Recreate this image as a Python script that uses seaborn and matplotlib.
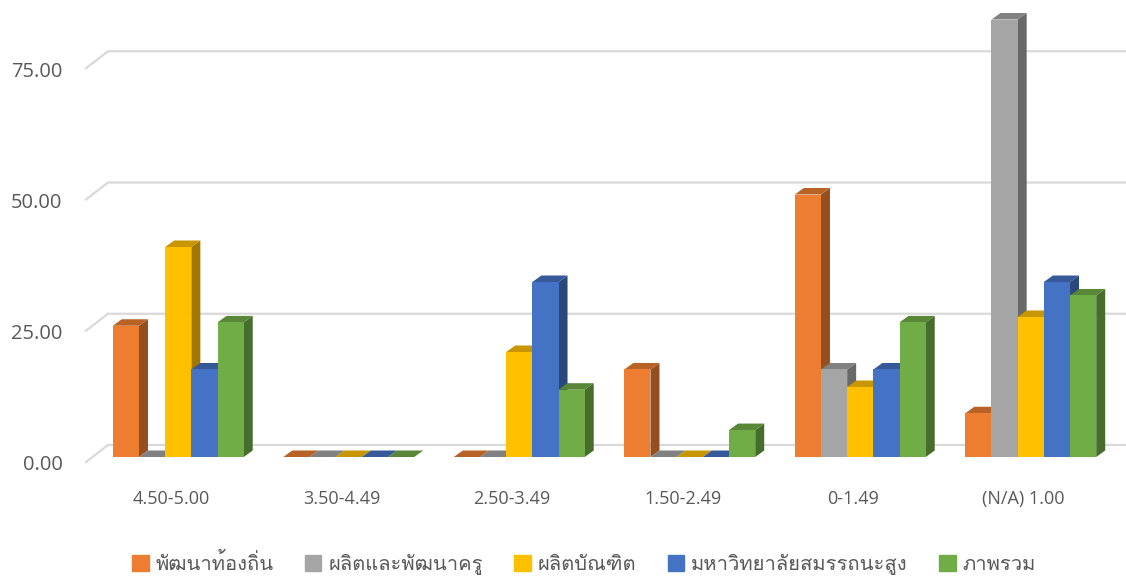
import numpy as np
import pandas as pd
import seaborn as sns
import matplotlib
matplotlib.use('Agg')
import matplotlib.pyplot as plt
from matplotlib import font_manager, ft2font, colors as mcolors
from matplotlib.patches import Polygon
from matplotlib.lines import Line2D
from matplotlib.transforms import ScaledTranslation, IdentityTransform

categories = ['4.50-5.00', '3.50-4.49', '2.50-3.49', '1.50-2.49', '0-1.49', '(N/A) 1.00']
series = ['พัฒนาท้องถิ่น', 'ผลิตและพัฒนาครู', 'ผลิตบัณฑิต', 'มหาวิทยาลัยสมรรถนะสูง', 'ภาพรวม']
local_dev = [25.00, 0.00, 0.00, 16.67, 50.00, 8.33]
teacher_dev = [0.00, 0.00, 0.00, 0.00, 16.67, 83.33]
graduates = [40.00, 0.00, 20.00, 0.00, 13.33, 26.67]
high_perf = [16.67, 0.00, 33.33, 0.00, 16.67, 33.33]
overall = [25.64, 0.00, 12.82, 5.13, 25.64, 30.77]
yticks = [0, 25, 50, 75]
palette = ['#ED7D31', '#A5A5A5', '#FFC000', '#4472C4', '#70AD47']


def find_thai_font():
    for f in font_manager.fontManager.ttflist:
        try:
            cmap = ft2font.FT2Font(f.fname).get_charmap()
        except Exception:
            continue
        if 0x0E1E in cmap and 0x0E31 in cmap:
            return f.name
    return None


thai = find_thai_font()
families = ([thai] if thai else []) + ['DejaVu Sans']
num_font = ['Open Sans', 'DejaVu Sans']

df = pd.DataFrame({
    'cat': categories * 5,
    'series': [s for s in series for _ in categories],
    'value': local_dev + teacher_dev + graduates + high_perf + overall,
})

fig = plt.figure(figsize=(11.26, 5.81), dpi=100)
W, H = 1126, 581
ax = fig.add_axes([93 / W, (H - 457) / H, 1023 / W, 457 / H])
sns.barplot(data=df, x='cat', y='value', hue='series', palette=palette,
            width=0.768, saturation=1, ax=ax, legend=False, linewidth=0)
ax.set_xlim(-0.5, 5.5)
ax.set_ylim(0, 457 / 5.25)
for s in ax.spines.values():
    s.set_visible(False)
ax.set_xlabel('')
ax.set_ylabel('')

# pixel -> data units
px_x = ax.transData.transform((1, 0))[0] - ax.transData.transform((0, 0))[0]
px_y = ax.transData.transform((0, 1))[1] - ax.transData.transform((0, 0))[1]
dx, dy = 9 / px_x, 6.5 / px_y

bars = sorted(ax.patches, key=lambda p: p.get_x())
for i, p in enumerate(bars):
    x0, w, h = p.get_x(), p.get_width(), p.get_height()
    c = np.array(mcolors.to_rgb(p.get_facecolor()))
    z = 3 + i * 0.01
    p.set_zorder(z + 0.005)
    p.set_clip_on(False)
    side = Polygon([(x0 + w, 0), (x0 + w + dx, dy), (x0 + w + dx, h + dy), (x0 + w, h)],
                   closed=True, facecolor=c * 0.63, edgecolor='none', zorder=z, clip_on=False)
    top = Polygon([(x0, h), (x0 + dx, h + dy), (x0 + w + dx, h + dy), (x0 + w, h)],
                  closed=True, facecolor=c * 0.78, edgecolor='none', zorder=z, clip_on=False)
    ax.add_patch(side)
    ax.add_patch(top)

# back wall gridlines with floor diagonals
for v in yticks:
    bx, by = ax.transData.transform((-0.5, v))
    ax.add_line(Line2D([bx - 7, bx + 15, bx + 1033], [by - 5, by + 12, by + 12],
                       transform=IdentityTransform(), color='#D9D9D9', lw=1.6,
                       zorder=0.5, clip_on=False))

ax.set_yticks(yticks)
ax.set_yticklabels([f'{v:.2f}' for v in yticks])
ax.tick_params(axis='y', length=0, pad=22, labelsize=14.5, labelcolor='#595959')
ax.tick_params(axis='x', length=0, pad=24, labelsize=13, labelcolor='#595959')
for lab in ax.get_yticklabels():
    lab.set_transform(lab.get_transform() + ScaledTranslation(0, -6 / 100, fig.dpi_scale_trans))
    lab.set_family(num_font)
for lab in ax.get_xticklabels():
    lab.set_transform(lab.get_transform() + ScaledTranslation(-7 / 100, 0, fig.dpi_scale_trans))
    lab.set_family(num_font)

handles = [plt.Rectangle((0, 0), 1, 1, color=c) for c in palette]
leg = fig.legend(handles, series, loc='center', bbox_to_anchor=(584 / W, (H - 564) / H),
                 ncol=5, frameon=False, handlelength=0.82, handleheight=0.82,
                 handletextpad=0.35, columnspacing=1.55,
                 prop={'family': families, 'size': 14.5})
for t in leg.get_texts():
    t.set_color('#595959')

fig.savefig('out.png', dpi=100)
